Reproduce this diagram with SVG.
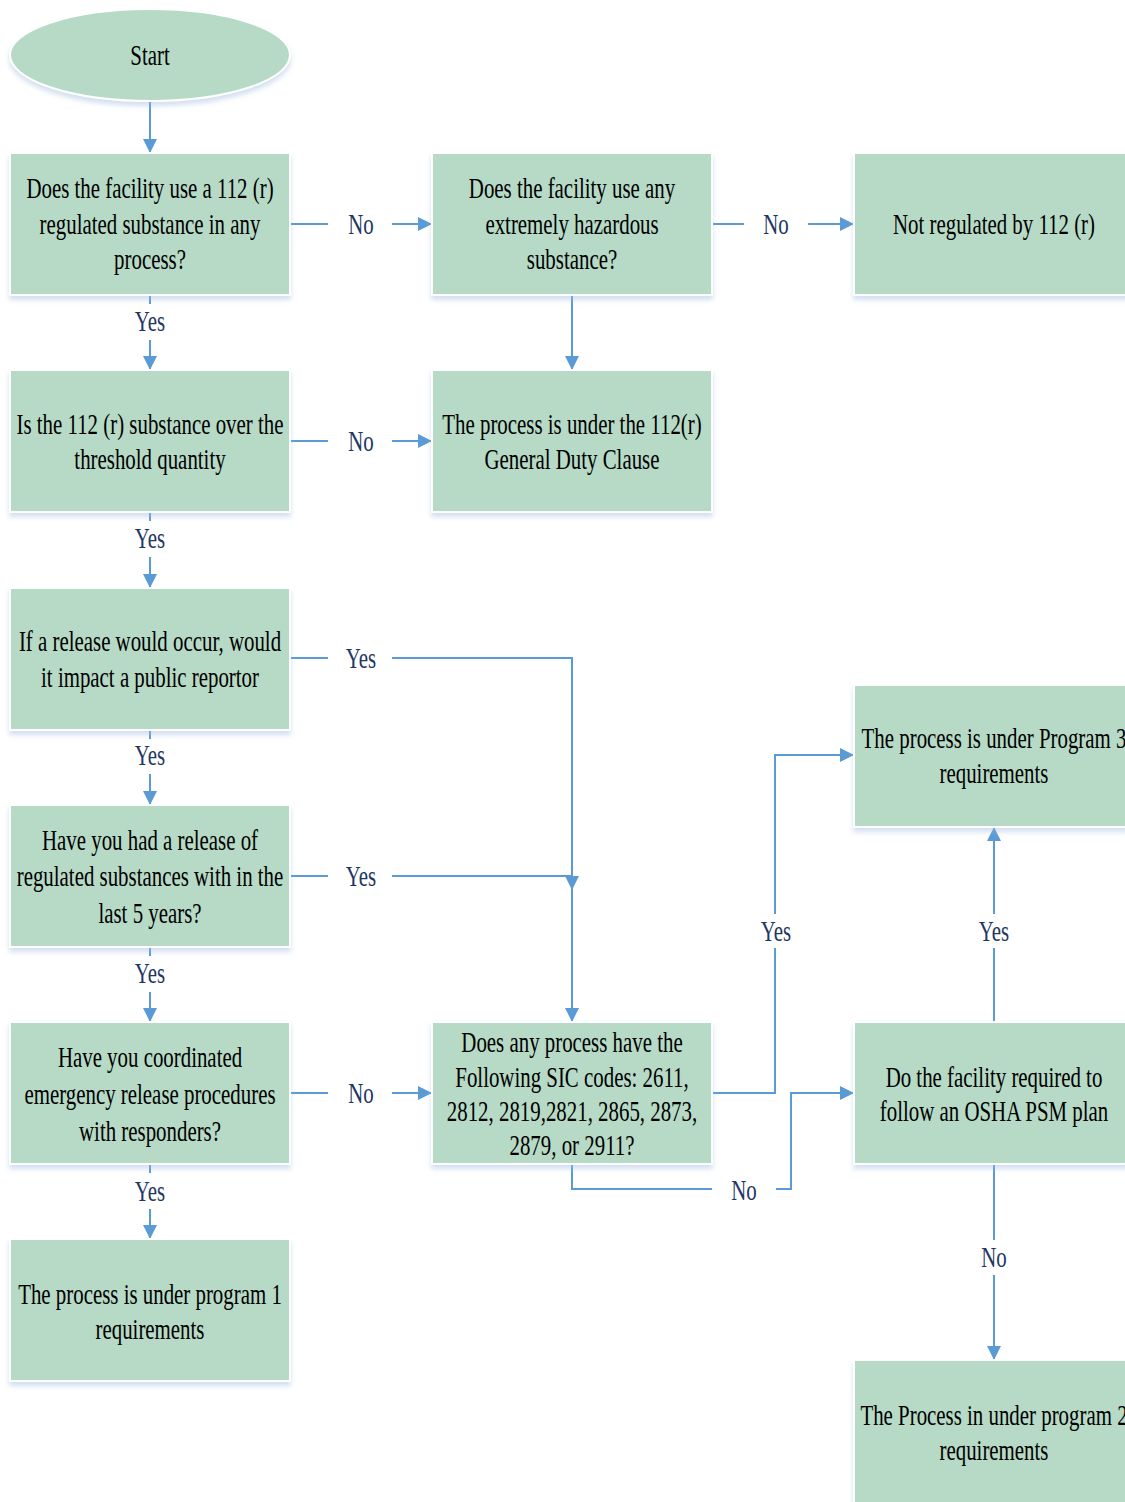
<svg xmlns="http://www.w3.org/2000/svg" width="1125" height="1502" viewBox="0 0 1125 1502">
<style>
.box{fill:#B6DAC6;stroke:#FFFFFF;stroke-width:2;filter:url(#sh)}
.t{font-family:"Liberation Serif","Times New Roman",serif;font-size:30px;fill:#000;text-anchor:middle}
.lb{font-family:"Liberation Serif","Times New Roman",serif;font-size:30px;fill:#1F3763;text-anchor:middle}
.c{fill:none;stroke:#5B9BD5;stroke-width:2}
</style>
<defs>
<filter id="sh" x="-10%" y="-10%" width="120%" height="130%">
<feDropShadow dx="0" dy="4" stdDeviation="2.5" flood-color="#9DB9DD" flood-opacity="0.45"/>
</filter>
<marker id="ar" markerUnits="userSpaceOnUse" markerWidth="14" markerHeight="14" viewBox="0 0 14 14" refX="13" refY="7" orient="auto">
<path d="M0,0 L14,7 L0,14 Z" fill="#5B9BD5"/>
</marker>
</defs>

<g id="connectors">
<path class="c" d="M150,101 V152" marker-end="url(#ar)"/>
<path class="c" d="M290,224 H328"/><path class="c" d="M392,224 H431" marker-end="url(#ar)"/>
<path class="c" d="M712,224 H744"/><path class="c" d="M808,224 H853" marker-end="url(#ar)"/>
<path class="c" d="M150,295 V304"/><path class="c" d="M150,340 V369" marker-end="url(#ar)"/>
<path class="c" d="M572,295 V369" marker-end="url(#ar)"/>
<path class="c" d="M290,441 H328"/><path class="c" d="M392,441 H431" marker-end="url(#ar)"/>
<path class="c" d="M150,512 V521"/><path class="c" d="M150,557 V587" marker-end="url(#ar)"/>
<path class="c" d="M290,658 H328"/><path class="c" d="M392,658 H572 V889" marker-end="url(#ar)"/>
<path class="c" d="M150,730 V739"/><path class="c" d="M150,774 V804" marker-end="url(#ar)"/>
<path class="c" d="M290,876 H328"/><path class="c" d="M392,876 H572 V1021" marker-end="url(#ar)"/>
<path class="c" d="M150,947 V956"/><path class="c" d="M150,992 V1021" marker-end="url(#ar)"/>
<path class="c" d="M290,1093 H328"/><path class="c" d="M392,1093 H431" marker-end="url(#ar)"/>
<path class="c" d="M150,1164 V1173"/><path class="c" d="M150,1209 V1238" marker-end="url(#ar)"/>
<path class="c" d="M712,1093 H775 V948"/><path class="c" d="M775,914 V755 H853" marker-end="url(#ar)"/>
<path class="c" d="M572,1164 V1189 H712"/><path class="c" d="M776,1189 H791 V1093 H853" marker-end="url(#ar)"/>
<path class="c" d="M994,1022 V948"/><path class="c" d="M994,914 V828" marker-end="url(#ar)"/>
<path class="c" d="M994,1164 V1240"/><path class="c" d="M994,1275 V1359" marker-end="url(#ar)"/>
</g>

<g id="labels">
<text class="lb" transform="translate(361 0) scale(0.696 1)" x="0" y="234">No</text>
<text class="lb" transform="translate(776 0) scale(0.696 1)" x="0" y="234">No</text>
<text class="lb" transform="translate(150 0) scale(0.696 1)" x="0" y="331">Yes</text>
<text class="lb" transform="translate(361 0) scale(0.696 1)" x="0" y="451">No</text>
<text class="lb" transform="translate(150 0) scale(0.696 1)" x="0" y="548">Yes</text>
<text class="lb" transform="translate(361 0) scale(0.696 1)" x="0" y="668">Yes</text>
<text class="lb" transform="translate(150 0) scale(0.696 1)" x="0" y="765">Yes</text>
<text class="lb" transform="translate(361 0) scale(0.696 1)" x="0" y="886">Yes</text>
<text class="lb" transform="translate(150 0) scale(0.696 1)" x="0" y="983">Yes</text>
<text class="lb" transform="translate(361 0) scale(0.696 1)" x="0" y="1103">No</text>
<text class="lb" transform="translate(150 0) scale(0.696 1)" x="0" y="1201">Yes</text>
<text class="lb" transform="translate(776 0) scale(0.696 1)" x="0" y="941">Yes</text>
<text class="lb" transform="translate(994 0) scale(0.696 1)" x="0" y="941">Yes</text>
<text class="lb" transform="translate(744 0) scale(0.696 1)" x="0" y="1200">No</text>
<text class="lb" transform="translate(994 0) scale(0.696 1)" x="0" y="1267">No</text>
</g>

<g id="start">
<ellipse class="box" cx="150" cy="55" rx="140" ry="46"/>
<text class="t" transform="translate(150 0) scale(0.696 1)" x="0" y="65">Start</text>
</g>

<g id="q1">
<rect class="box" x="10" y="153" width="280" height="142"/>
<text class="t" transform="translate(150 0) scale(0.696 1)"><tspan x="0" y="198">Does the facility use a 112 (r)</tspan><tspan x="0" y="234">regulated substance in any</tspan><tspan x="0" y="269">process?</tspan></text>
</g>

<g id="q2">
<rect class="box" x="432" y="153" width="280" height="142"/>
<text class="t" transform="translate(572 0) scale(0.696 1)"><tspan x="0" y="198">Does the facility use any</tspan><tspan x="0" y="234">extremely hazardous</tspan><tspan x="0" y="269">substance?</tspan></text>
</g>

<g id="notreg">
<rect class="box" x="854" y="153" width="280" height="142"/>
<text class="t" transform="translate(994 0) scale(0.696 1)"><tspan x="0" y="234">Not regulated by 112 (r)</tspan></text>
</g>

<g id="q3">
<rect class="box" x="10" y="370" width="280" height="142"/>
<text class="t" transform="translate(150 0) scale(0.696 1)"><tspan x="0" y="434">Is the 112 (r) substance over the</tspan><tspan x="0" y="469">threshold quantity</tspan></text>
</g>

<g id="gdc">
<rect class="box" x="432" y="370" width="280" height="142"/>
<text class="t" transform="translate(572 0) scale(0.696 1)"><tspan x="0" y="434">The process is under the 112(r)</tspan><tspan x="0" y="469">General Duty Clause</tspan></text>
</g>

<g id="q4">
<rect class="box" x="10" y="588" width="280" height="142"/>
<text class="t" transform="translate(150 0) scale(0.696 1)"><tspan x="0" y="651">If a release would occur, would</tspan><tspan x="0" y="687">it impact a public reportor</tspan></text>
</g>

<g id="q5">
<rect class="box" x="10" y="805" width="280" height="142"/>
<text class="t" transform="translate(150 0) scale(0.696 1)"><tspan x="0" y="850">Have you had a release of</tspan><tspan x="0" y="886">regulated substances with in the</tspan><tspan x="0" y="923">last 5 years?</tspan></text>
</g>

<g id="q6">
<rect class="box" x="10" y="1022" width="280" height="142"/>
<text class="t" transform="translate(150 0) scale(0.696 1)"><tspan x="0" y="1067">Have you coordinated</tspan><tspan x="0" y="1104">emergency release procedures</tspan><tspan x="0" y="1141">with responders?</tspan></text>
</g>

<g id="p1">
<rect class="box" x="10" y="1239" width="280" height="142"/>
<text class="t" transform="translate(150 0) scale(0.696 1)"><tspan x="0" y="1304">The process is under program 1</tspan><tspan x="0" y="1339">requirements</tspan></text>
</g>

<g id="sic">
<rect class="box" x="432" y="1022" width="280" height="142"/>
<text class="t" transform="translate(572 0) scale(0.696 1)"><tspan x="0" y="1052">Does any process have the</tspan><tspan x="0" y="1087">Following SIC codes: 2611,</tspan><tspan x="0" y="1121">2812, 2819,2821, 2865, 2873,</tspan><tspan x="0" y="1155">2879, or 2911?</tspan></text>
</g>

<g id="p3">
<rect class="box" x="854" y="685" width="280" height="142"/>
<text class="t" transform="translate(994 0) scale(0.696 1)"><tspan x="0" y="748">The process is under Program 3</tspan><tspan x="0" y="783">requirements</tspan></text>
</g>

<g id="osha">
<rect class="box" x="854" y="1022" width="280" height="142"/>
<text class="t" transform="translate(994 0) scale(0.696 1)"><tspan x="0" y="1087">Do the facility required to</tspan><tspan x="0" y="1121">follow an OSHA PSM plan</tspan></text>
</g>

<g id="p2">
<rect class="box" x="854" y="1360" width="280" height="150"/>
<text class="t" transform="translate(994 0) scale(0.696 1)"><tspan x="0" y="1425">The Process in under program 2</tspan><tspan x="0" y="1460">requirements</tspan></text>
</g>
</svg>
